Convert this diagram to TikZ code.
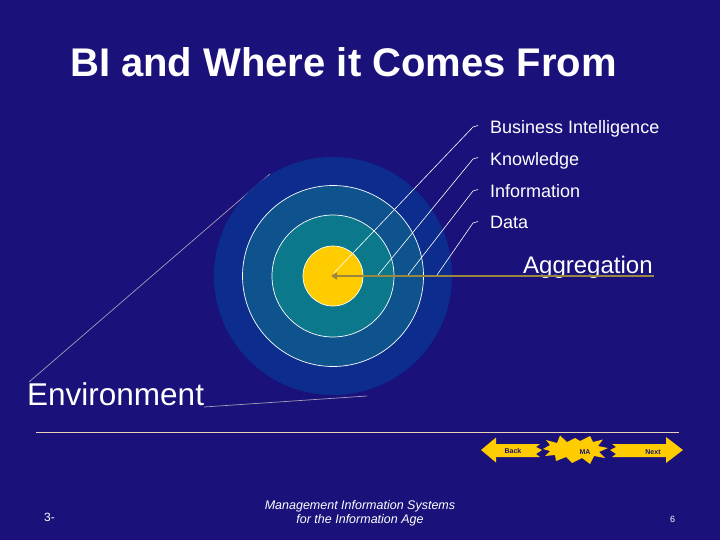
\documentclass[tikz,border=0pt]{standalone}
\usepackage{fontspec}
\setmainfont{Liberation Sans}
\usetikzlibrary{arrows.meta}
\definecolor{bg}{HTML}{1A117A}
\definecolor{ringA}{HTML}{0C2C8E}
\definecolor{ringB}{HTML}{0E528E}
\definecolor{ringC}{HTML}{0B788C}
\definecolor{core}{HTML}{FFCC00}
\definecolor{aggr}{HTML}{9A8640}
\definecolor{envline}{HTML}{A49EB8}
\definecolor{rule}{HTML}{E8D2B8}
\definecolor{navtext}{HTML}{1A1470}
\tikzset{
  disc/.style={circle, inner sep=0pt, minimum size=#1},
  lbl/.style={text=white, inner sep=0pt, anchor=base west, font=\fontsize{18}{20}\selectfont},
  leader/.style={draw=white, line width=0.6pt},
  envl/.style={draw=envline, line width=0.7pt},
  navbtn/.style={fill=core, draw=none},
  navlbl/.style={text=navtext, inner sep=0pt, font=\fontsize{7}{8}\selectfont\bfseries},
}
\begin{document}
\begin{tikzpicture}[x=1pt,y=-1pt]
\useasboundingbox (0,0) rectangle (720,540);
\fill[bg] (0,0) rectangle (720,540);

% title
\node[text=white, inner sep=0pt, anchor=base west, font=\fontsize{40}{44}\selectfont\bfseries] (title) at (70,77) {BI and Where it Comes From};

% environment lines (behind circles)
\coordinate (envA) at (29,382);
\coordinate (envB) at (270,174);
\coordinate (envC) at (204,407);
\coordinate (envD) at (367,396);
\draw[envl] (envA) -- (envB);
\draw[envl] (envC) -- (envD);

% concentric circles
\node[disc=238pt, fill=ringA] (outer) at (333,276) {};
\node[disc=181pt, fill=ringB, draw=white, line width=0.7pt] (know) at (333,276) {};
\node[disc=122pt, fill=ringC, draw=white, line width=0.7pt] (info) at (333,276) {};
\node[disc=60pt, fill=core, draw=white, line width=0.7pt] (data) at (333,276) {};

% labels
\node[lbl] (lBI) at (490,134) {Business Intelligence};
\node[lbl] (lK) at (490,166) {Knowledge};
\node[lbl] (lI) at (490,198) {Information};
\node[lbl] (lD) at (490,229) {Data};

% leader lines
\coordinate (sBI) at (334,273);
\coordinate (sK) at (378,275);
\coordinate (sI) at (408,275);
\coordinate (sD) at (437,275);
\draw[leader] (sBI) -- (473,127) -- (478,125.5);
\draw[leader] (sK) -- (473,159) -- (478,157.5);
\draw[leader] (sI) -- (473,191) -- (478,189.5);
\draw[leader] (sD) -- (473,223) -- (478,221.5);

% aggregation
\node[text=white, inner sep=0pt, anchor=base west, font=\fontsize{24}{28}\selectfont] (agg) at (523,273) {Aggregation};
\coordinate (aggEnd) at (654,276);
\draw[draw=aggr, line width=2.8pt, -{Triangle[length=6pt,width=7pt]}] (aggEnd) -- (331,276);

% environment label
\node[text=white, inner sep=0pt, anchor=base west, font=\fontsize{31.5}{34}\selectfont] (env) at (27,405) {Environment};

% rule
\draw[draw=rule, line width=0.9pt] (36,432) -- (679,432);

% navigation buttons
\fill[navbtn] (481,450) -- (496,437.5) -- (496,444) -- (540,444) -- (536,447) -- (542,450) -- (536,454) -- (540,457) -- (496,457) -- (496,462.5) -- cycle;
\fill[navbtn] (683,450) -- (666,437) -- (666,444) -- (612,444) -- (616,447) -- (610,450) -- (616,454) -- (612,457) -- (666,457) -- (666,463) -- cycle;
\fill[navbtn] (543,449) -- (550,445) -- (546,440) -- (557,443) -- (560,435.5) -- (567,442) -- (575,438) -- (580,441) -- (590,436) -- (593,442) -- (603,439.5) -- (598,446) -- (608,448) -- (599,452) -- (605,458) -- (594,456) -- (590,464) -- (582,458) -- (572,463) -- (566,457) -- (556,461) -- (555,455) -- (545,456) -- (550,451) -- cycle;
\node[navlbl] (back) at (513,451) {Back};
\node[navlbl] (ma) at (585,452) {MA};
\node[navlbl, font=\fontsize{6}{7}\selectfont] (mag) at (601,461) {9};
\node[navlbl] (next) at (653,452) {Next};

% footer
\node[text=white, inner sep=0pt, anchor=base west, font=\fontsize{12}{14}\selectfont] (chap) at (44,521) {3-};
\node[text=white, inner sep=0pt, align=center, font=\fontsize{12.5}{14}\selectfont\itshape] (foot) at (360,513) {Management Information Systems\\for the Information Age};
\node[text=white, inner sep=0pt, anchor=base west, font=\fontsize{9}{10}\selectfont] (page) at (670,522) {6};
\end{tikzpicture}
\end{document}
